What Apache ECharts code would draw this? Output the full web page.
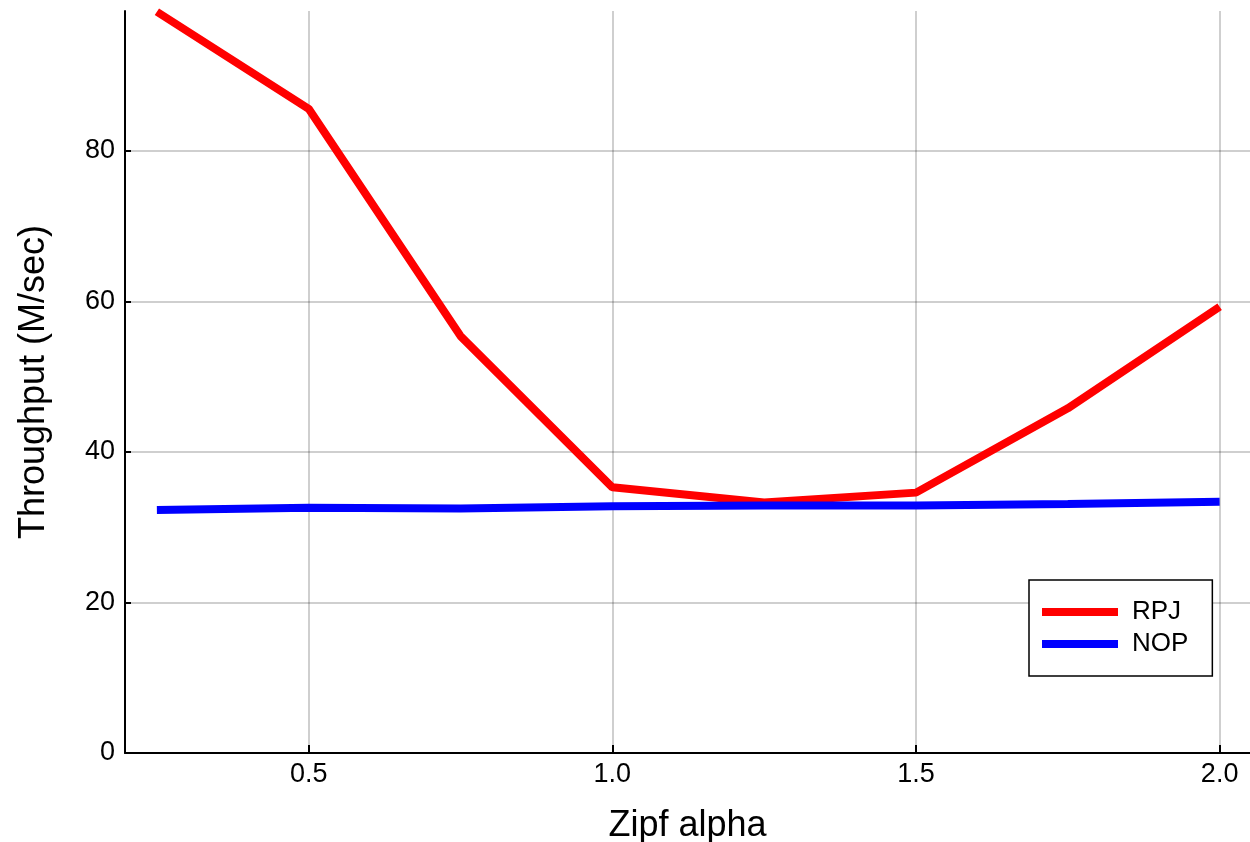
<!DOCTYPE html>
<html>
<head>
<meta charset="utf-8">
<script src="https://cdn.jsdelivr.net/npm/echarts@6/dist/echarts.min.js"></script>
<style>html,body{margin:0;padding:0;background:#fff}#c{width:1250px;height:842px}</style>
</head>
<body>
<div id="c"></div>
<script>
const alphas = [0.25, 0.5, 0.75, 1.0, 1.25, 1.5, 1.75, 2.0];
const rpj = [98.5, 85.6, 55.4, 35.3, 33.3, 34.6, 45.8, 59.3];
const nop = [32.3, 32.6, 32.5, 32.8, 32.9, 32.9, 33.1, 33.4];
const xTicks = [0.5, 1.0, 1.5, 2.0];
const yTicks = [0, 20, 40, 60, 80];

const font = '"Liberation Sans", Arial, sans-serif';
const chart = echarts.init(document.getElementById('c'));
chart.setOption({
  animation: false,
  backgroundColor: '#fff',
  grid: { left: 125, right: 0, top: 11, bottom: 89, containLabel: false, outerBoundsMode: 'none' },
  legend: {
    left: 1029, top: 580, orient: 'vertical',
    data: [{ name: 'RPJ', icon: 'rect' }, { name: 'NOP', icon: 'rect' }],
    itemWidth: 76, itemHeight: 8, itemGap: 4,
    padding: [18, 24, 18, 13],
    borderColor: '#000', borderWidth: 1.5, backgroundColor: '#fff',
    textStyle: { fontFamily: font, fontSize: 26, color: '#000', lineHeight: 28, padding: [0, 0, 0, 9] }
  },
  xAxis: {
    type: 'value', min: 0.1975, max: 2.05,
    name: 'Zipf alpha', nameLocation: 'middle', nameGap: 55,
    nameTextStyle: { fontFamily: font, fontSize: 36, color: '#000' },
    axisLine: { show: true, onZero: false, lineStyle: { color: '#000', width: 2 } },
    axisTick: { show: true, inside: true, length: 8, customValues: xTicks, lineStyle: { color: '#000', width: 2 } },
    axisLabel: { customValues: xTicks, margin: 8, fontFamily: font, fontSize: 27, color: '#000',
      formatter: v => v.toFixed(1) },
    splitLine: { show: true, lineStyle: { color: 'rgba(0,0,0,0.25)', width: 1.5 } }
  },
  yAxis: {
    type: 'value', min: 0, max: 98.6,
    name: 'Throughput (M/sec)', nameLocation: 'middle', nameGap: 73,
    nameTextStyle: { fontFamily: font, fontSize: 36, color: '#000' },
    axisLine: { show: true, lineStyle: { color: '#000', width: 2 } },
    axisTick: { show: true, inside: true, length: 6, customValues: yTicks, lineStyle: { color: '#000', width: 2 } },
    axisLabel: { customValues: yTicks, margin: 10, fontFamily: font, fontSize: 27, color: '#000' },
    splitLine: { show: true, lineStyle: { color: 'rgba(0,0,0,0.25)', width: 1.5 } }
  },
  series: [
    { name: 'RPJ', type: 'line', data: alphas.map((a, i) => [a, rpj[i]]), showSymbol: false, symbol: 'none',
      itemStyle: { color: '#ff0000' }, lineStyle: { color: '#ff0000', width: 8 }, clip: true, z: 3 },
    { name: 'NOP', type: 'line', data: alphas.map((a, i) => [a, nop[i]]), showSymbol: false, symbol: 'none',
      itemStyle: { color: '#0000ff' }, lineStyle: { color: '#0000ff', width: 8 }, clip: true, z: 4 }
  ]
});
</script>
</body>
</html>
